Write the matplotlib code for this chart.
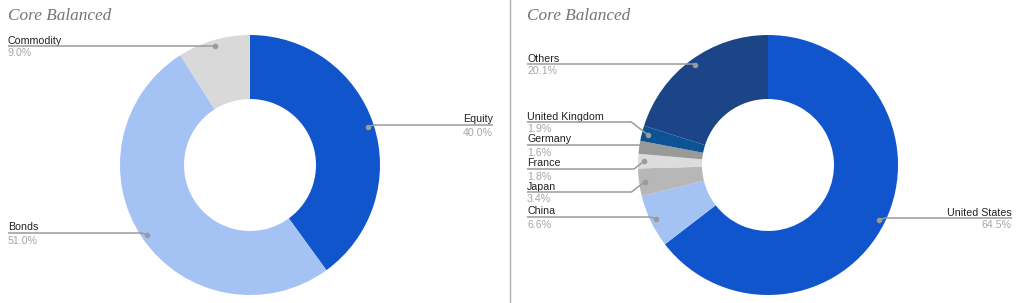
import numpy as np
import matplotlib
matplotlib.use("Agg")
import matplotlib.pyplot as plt

W, H = 1024, 303

# ---- data ----
title = "Core Balanced"
left_labels = ["Equity", "Bonds", "Commodity"]
left_values = [40.0, 51.0, 9.0]
left_colors = ["#1155cc", "#a4c2f4", "#d9d9d9"]

right_labels = ["United States", "China", "Japan", "France", "Germany", "United Kingdom", "Others"]
right_values = [64.5, 6.6, 3.4, 1.8, 1.6, 1.9, 20.1]
right_colors = ["#1155cc", "#a4c2f4", "#b7b7b7", "#dcdcdc", "#999999", "#0b5394", "#1c4587"]

# ---- layout (pixel coords, top-down) ----
left_center = (250, 165)
right_center = (768, 165)
R_OUT = 130
R_IN = 66
R_PT = 124

# label layout: label -> (line y, text x, align)
left_layout = {
    "Equity": (125, 493, "right"),
    "Bonds": (233, 8, "left"),
    "Commodity": (46, 8, "left"),
}
right_layout = {
    "United States": (218, 1012, "right"),
    "China": (217, 527, "left"),
    "Japan": (192, 527, "left"),
    "France": (169, 527, "left"),
    "Germany": (145, 527, "left"),
    "United Kingdom": (122, 527, "left"),
    "Others": (64, 527, "left"),
}

fig = plt.figure(figsize=(W / 100, H / 100), dpi=100)
ax = fig.add_axes([0, 0, 1, 1])


def Y(y):
    return H - y


def donut(center, labels, values, colors, layout):
    cx, cy = center
    ax.pie(values, colors=colors, center=(cx, Y(cy)), radius=R_OUT,
           startangle=90, counterclock=False, frame=True,
           wedgeprops=dict(width=R_OUT - R_IN, linewidth=0))
    total = sum(values)
    cum = 0.0
    for lab, v in zip(labels, values):
        mid = (cum + v / 2) / total * 2 * np.pi
        cum += v
        px = cx + R_PT * np.sin(mid)
        py = cy - R_PT * np.cos(mid)
        ly, tx, ha = layout[lab]
        dy = abs(py - ly)
        if ha == "left":
            elbow = px - max(6, 1.3 * dy) if dy > 1.5 else px
            xs = [tx, elbow, px]
        else:
            elbow = px + max(6, 1.3 * dy) if dy > 1.5 else px
            xs = [tx, elbow, px]
        ys = [ly, ly, py]
        ax.plot(xs, [Y(v_) for v_ in ys], color="#9a9a9a", lw=1.1,
                solid_capstyle="butt", zorder=5)
        ax.plot([px], [Y(py)], "o", ms=3, color="#9a9a9a", zorder=6)
        ax.text(tx, Y(ly - 2.5), lab, ha=ha, va="baseline",
                fontsize=7.7, family="Liberation Sans", color="#222222")
        ax.text(tx, Y(ly + 2.5), f"{v:.1f}%", ha=ha, va="top",
                fontsize=7.7, family="Liberation Sans", color="#a6a6a6")


donut(left_center, left_labels, left_values, left_colors, left_layout)
donut(right_center, right_labels, right_values, right_colors, right_layout)

# titles
ax.text(8, Y(20), title, ha="left", va="baseline", fontsize=12.4,
        family="Liberation Serif", style="italic", color="#757575")
ax.text(527, Y(20), title, ha="left", va="baseline", fontsize=12.4,
        family="Liberation Serif", style="italic", color="#757575")

# separator
ax.plot([510, 510], [0, H], color="#b0b0b0", lw=1)

ax.set_xlim(0, W)
ax.set_ylim(0, H)
ax.set_aspect("auto")
ax.axis("off")

fig.savefig("out.png", dpi=100, facecolor="white")
